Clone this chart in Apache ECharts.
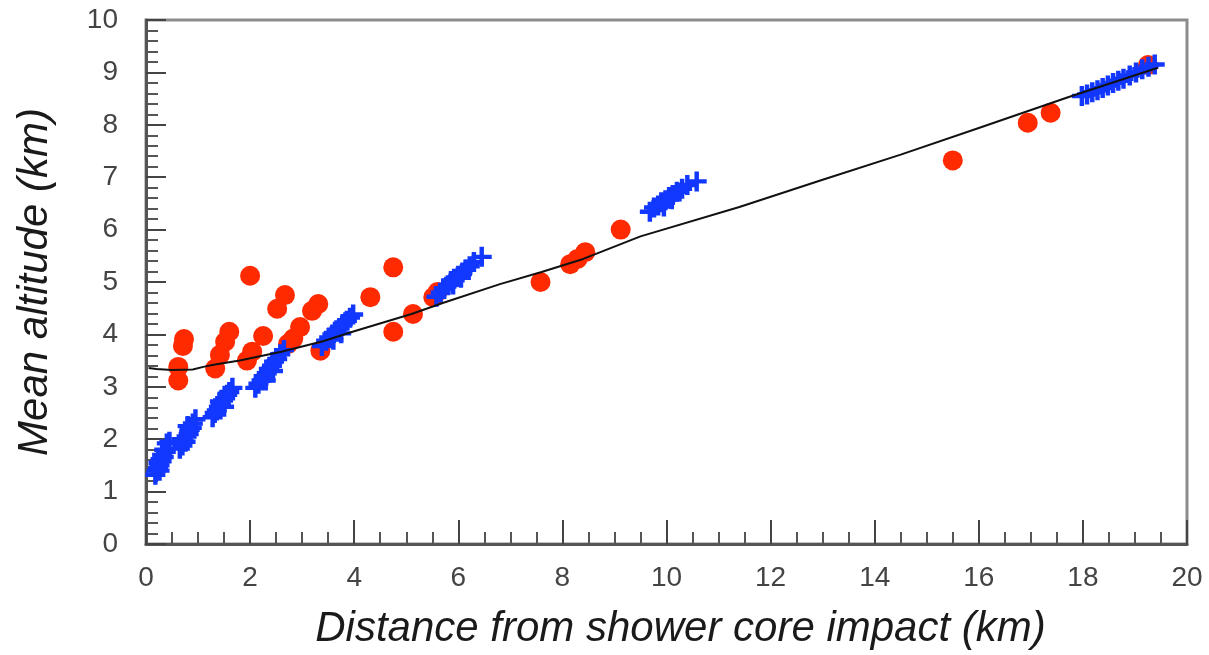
<!DOCTYPE html>
<html>
<head>
<meta charset="utf-8">
<script src="https://cdn.jsdelivr.net/npm/echarts@6/dist/echarts.min.js"></script>
<style>
  html, body { margin: 0; padding: 0; background: #fff; }
  #chart { width: 1209px; height: 655px; }
</style>
</head>
<body>
<div id="chart"></div>
<script>
// Measured shower points: [distance km, mean altitude km]
const redPoints = [
  [0.62, 3.12], [0.62, 3.38], [0.71, 3.78], [0.73, 3.91],
  [1.33, 3.35], [1.42, 3.61], [1.52, 3.86], [1.60, 4.05],
  [1.94, 3.50], [2.04, 3.67], [2.00, 5.12], [2.25, 3.97],
  [2.52, 4.49], [2.67, 4.75], [2.73, 3.82], [2.83, 3.92],
  [2.96, 4.14], [3.19, 4.45], [3.31, 4.58], [3.35, 3.69],
  [4.31, 4.71], [4.75, 5.28], [4.75, 4.05], [5.13, 4.39],
  [5.52, 4.71], [5.60, 4.81], [7.58, 5.00], [8.15, 5.34],
  [8.29, 5.44], [8.44, 5.57], [9.12, 6.00], [15.50, 7.32],
  [16.94, 8.04], [17.38, 8.23], [19.25, 9.14]
];

// Simulated shower points: [distance km, mean altitude km]
const bluePoints = [
  [0.18, 1.32], [0.20, 1.40], [0.23, 1.45], [0.24, 1.55], [0.26, 1.50],
  [0.28, 1.62], [0.30, 1.58], [0.31, 1.70], [0.34, 1.66], [0.35, 1.80],
  [0.38, 1.76], [0.40, 1.92], [0.45, 1.95], [0.26, 1.40],
  [0.65, 1.82], [0.70, 1.88], [0.72, 1.97], [0.76, 1.95], [0.78, 2.05],
  [0.82, 2.10], [0.84, 2.18], [0.88, 2.22], [0.90, 2.30], [0.95, 2.38],
  [0.68, 2.00], [0.80, 2.25],
  [1.28, 2.42], [1.32, 2.50], [1.36, 2.55], [1.40, 2.62], [1.44, 2.66],
  [1.48, 2.74], [1.52, 2.78], [1.56, 2.85], [1.60, 2.90], [1.66, 2.98],
  [1.42, 2.72], [1.50, 2.62],
  [2.10, 2.98], [2.16, 3.06], [2.22, 3.12], [2.26, 3.20], [2.32, 3.26],
  [2.36, 3.34], [2.42, 3.40], [2.46, 3.48], [2.52, 3.53], [2.58, 3.62],
  [2.65, 3.70], [2.30, 3.12], [2.44, 3.30],
  [3.38, 3.78], [3.46, 3.88], [3.52, 3.94], [3.58, 4.00], [3.66, 4.08],
  [3.72, 4.12], [3.78, 4.20], [3.86, 4.26], [3.92, 4.32], [3.98, 4.38],
  [3.60, 3.90], [3.75, 4.02],
  [5.58, 4.72], [5.66, 4.80], [5.72, 4.88], [5.80, 4.94], [5.86, 5.02],
  [5.92, 5.06], [6.00, 5.12], [6.08, 5.18], [6.14, 5.24], [6.22, 5.30],
  [6.30, 5.38], [6.45, 5.48], [5.90, 4.95], [6.05, 5.08],
  [9.68, 6.34], [9.76, 6.42], [9.84, 6.46], [9.90, 6.52], [9.98, 6.56],
  [10.05, 6.62], [10.12, 6.66], [10.20, 6.72], [10.30, 6.78], [10.40, 6.85],
  [10.58, 6.92], [9.95, 6.44], [10.10, 6.58],
  [17.98, 8.55], [18.08, 8.58], [18.18, 8.62], [18.28, 8.66], [18.38, 8.70],
  [18.48, 8.75], [18.58, 8.80], [18.68, 8.84], [18.78, 8.88], [18.90, 8.94],
  [19.02, 9.00], [19.14, 9.06], [19.26, 9.11], [19.38, 9.15]
];

// Fitted curve samples: [distance km, altitude km]
const fitCurve = [
  [0.05, 3.36], [0.2, 3.34], [0.5, 3.32], [0.9, 3.33], [1.1, 3.38],
  [1.3, 3.42], [1.8, 3.50], [2.6, 3.67], [3.4, 3.87], [4.0, 4.06],
  [5.1, 4.39], [5.7, 4.60], [6.8, 4.96], [7.6, 5.19], [8.4, 5.44],
  [9.5, 5.87], [11.4, 6.43], [13.0, 6.95], [14.5, 7.43], [16.0, 7.94],
  [17.7, 8.52], [19.44, 9.09]
];

const xTitle = 'Distance from shower core impact (km)';
const yTitle = 'Mean altitude (km)';

const labelFont = '"Liberation Sans", Arial, sans-serif';
const titleFont = '"Liberation Sans", Arial, sans-serif';

// plus-shaped marker with thick arms
const plusSymbol = 'path://M7,0h4v7h7v4h-7v7h-4v-7h-7v-4h7z';

const chart = echarts.init(document.getElementById('chart'), null, { renderer: 'canvas' });

chart.setOption({
  animation: false,
  backgroundColor: '#ffffff',
  grid: {
    left: 146, right: 22, top: 20, bottom: 109,
    show: true, borderColor: '#8c8c8c', borderWidth: 3
  },
  xAxis: {
    type: 'value', min: 0, max: 20, interval: 2,
    name: xTitle, nameLocation: 'middle', nameGap: 64,
    nameTextStyle: { fontFamily: titleFont, fontStyle: 'italic', fontSize: 42, color: '#1a1a1a', padding: [0, 0, 0, 28] },
    axisLine: { show: true, lineStyle: { color: '#555', width: 3 } },
    axisTick: { show: true, inside: true, length: 24, lineStyle: { color: '#444', width: 2 } },
    minorTick: { show: true, splitNumber: 4, length: 12, lineStyle: { color: '#555', width: 2 } },
    axisLabel: { fontFamily: labelFont, fontSize: 28, color: '#444', margin: 20 },
    splitLine: { show: false }
  },
  yAxis: {
    type: 'value', min: 0, max: 10, interval: 1,
    name: yTitle, nameLocation: 'middle', nameGap: 90,
    nameTextStyle: { fontFamily: titleFont, fontStyle: 'italic', fontSize: 42, color: '#1a1a1a' },
    axisLine: { show: true, lineStyle: { color: '#555', width: 3 } },
    axisTick: { show: true, inside: true, length: 20, lineStyle: { color: '#444', width: 2 } },
    minorTick: { show: true, splitNumber: 5, length: 12, lineStyle: { color: '#555', width: 2 } },
    axisLabel: { fontFamily: labelFont, fontSize: 28, color: '#444', margin: 28 },
    splitLine: { show: false }
  },
  series: [
    {
      name: 'data', type: 'scatter', data: redPoints, z: 2,
      symbol: 'circle', symbolSize: 20,
      itemStyle: { color: '#ff2a00', opacity: 1 }
    },
    {
      name: 'simulation', type: 'scatter', data: bluePoints, z: 3,
      symbol: plusSymbol, symbolSize: 20,
      itemStyle: { color: '#1238ff', opacity: 1 }
    },
    {
      name: 'fit', type: 'line', data: fitCurve, z: 4,
      smooth: false, showSymbol: false,
      lineStyle: { color: '#111', width: 2 }
    }
  ]
});
</script>
</body>
</html>
